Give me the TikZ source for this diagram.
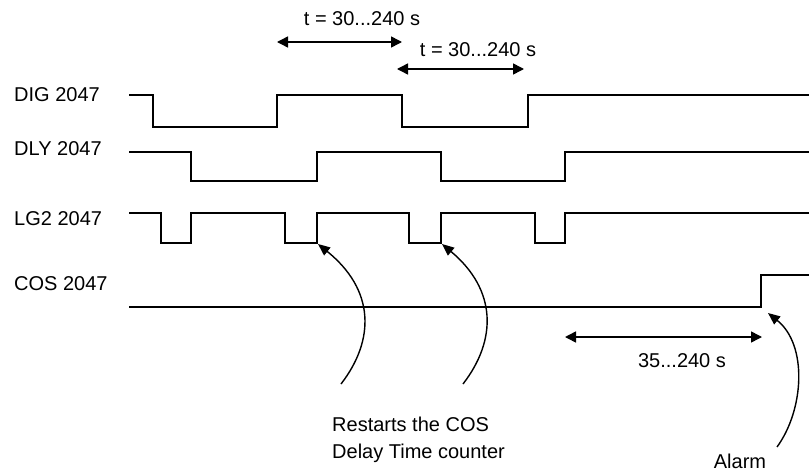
\documentclass[tikz,border=0pt]{standalone}
\usepackage{fontspec}
\setmainfont{Liberation Sans}
\usetikzlibrary{arrows.meta}

\begin{document}
\begin{tikzpicture}[x=1pt,y=-1pt]
\tikzset{
   signal/.style={line width=1.5pt, line join=miter},
   dimarrow/.style={line width=1.5pt, {Triangle[length=11pt,width=11pt]}-{Triangle[length=11pt,width=11pt]}},
   pointer/.style={line width=1.4pt, -{Triangle[length=12pt,width=10pt]}},
   lbl/.style={inner sep=0pt, font=\fontsize{20}{27}\selectfont},
}
\useasboundingbox (0,0) rectangle (809,471);
\node[lbl, anchor=west] (dig) at (14,95) {DIG 2047};
\node[lbl, anchor=west] (dly) at (14,149) {DLY 2047};
\node[lbl, anchor=west] (lg2) at (14,219) {LG2 2047};
\node[lbl, anchor=west] (cos) at (14,284) {COS 2047};
\draw[signal] (129,95) -- (153,95) -- (153,127) -- (277,127) -- (277,95) -- (402,95) -- (402,127) -- (528,127) -- (528,95) -- (809,95);
\draw[signal] (129,152) -- (191,152) -- (191,181) -- (317,181) -- (317,152) -- (441,152) -- (441,181) -- (565,181) -- (565,152) -- (809,152);
\draw[signal] (129,213) -- (161,213) -- (161,243) -- (191,243) -- (191,213) -- (285,213) -- (285,243) -- (317,243) -- (317,213)
   -- (409,213) -- (409,243) -- (441,243) -- (441,213) -- (535,213) -- (535,243) -- (565,243) -- (565,213) -- (809,213);
\draw[signal] (129,307) -- (761,307) -- (761,275) -- (809,275);
\node[lbl] (t1) at (362,19) {t = 30...240 s};
\node[lbl] (t2) at (478,50) {t = 30...240 s};
\node[lbl] (t3) at (682,361) {35...240 s};
\coordinate (t1a) at (277,42);
\coordinate (t1b) at (402,42);
\coordinate (t2a) at (397,69);
\coordinate (t2b) at (524,69);
\coordinate (t3a) at (565,337);
\coordinate (t3b) at (762,337);
\draw[dimarrow] (t1a) -- (t1b);
\draw[dimarrow] (t2a) -- (t2b);
\draw[dimarrow] (t3a) -- (t3b);
\node[lbl, anchor=north west, align=left] (restart) at (332,417) {Restarts the COS\\Delay Time counter};
\node[lbl] (alarm) at (740,461) {Alarm};
\coordinate (r1) at (341,384);
\coordinate (r2) at (463,384);
\coordinate (a1) at (777,447);
\coordinate (e1) at (318,244);
\coordinate (e2) at (442,244);
\coordinate (e3) at (768,313);
\draw[pointer] (r1) .. controls (375,340) and (375,290) .. (e1);
\draw[pointer] (r2) .. controls (497,340) and (497,290) .. (e2);
\draw[pointer] (a1) .. controls (804,410) and (808,345) .. (e3);
\end{tikzpicture}
\end{document}
